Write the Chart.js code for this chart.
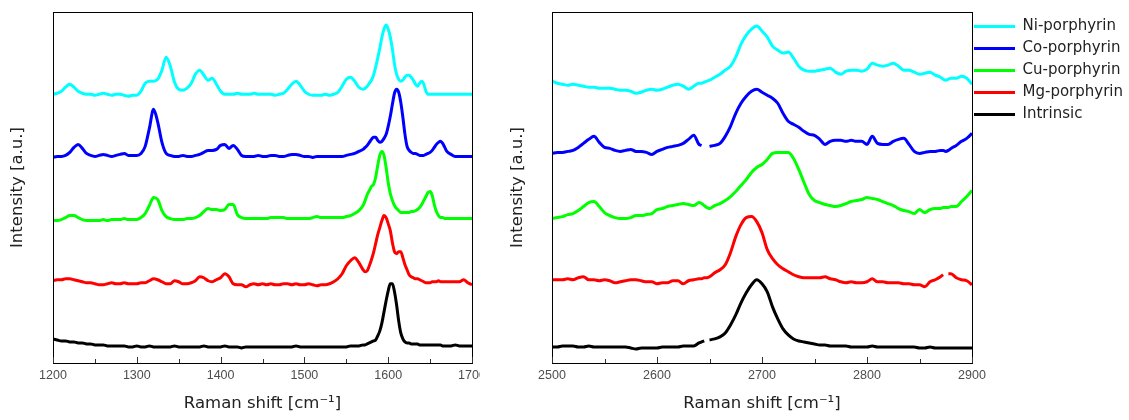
<!DOCTYPE html>
<html>
<head>
<meta charset="utf-8">
<script src="https://cdn.jsdelivr.net/npm/chart.js@4.4.0/dist/chart.umd.min.js"></script>
<style>
  body { margin: 0; background: #fff; overflow: hidden; }
  canvas { position: absolute; top: 0; }
  #left { left: 0; }
  #right { left: 500px; }
</style>
</head>
<body>
<canvas id="left" width="480" height="420"></canvas>
<canvas id="right" width="629" height="420"></canvas>
<script>
// Raman shift grids (cm-1), denser around the G band region and the data gaps
const shiftLeft = [
  1200,1205,1210,1215,1220,1225,1230,1235,1240,1245,1250,1255,1260,1265,1270,1275,1280,1285,1290,1295,
  1300,1305,1310,1315,1320,1325,1330,1335,1340,1345,1350,1355,1360,1365,1370,1375,1380,1385,1390,1395,
  1400,1405,1410,1415,1420,1425,1430,1435,1440,1445,1450,1455,1460,1465,1470,1475,1480,1485,1490,1495,
  1500,1505,1510,1515,1520,1525,1530,1535,1540,1545,1550,1555,1560,1565,
  1570,1572.5,1575,1577.5,1580,1582.5,1585,1587.5,1590,1592.5,1595,1597.5,1600,1602.5,1605,1607.5,1610,1612.5,1615,1617.5,
  1620,1622.5,1625,1627.5,1630,1632.5,1635,1637.5,1640,1642.5,1645,1647.5,1650,1652.5,1655,1657.5,1660,1662.5,1665,1667.5,
  1670,1675,1680,1685,1690,1695,1700
];
const shiftRight = [
  2500,2505,2510,2515,2520,2525,2530,2535,2540,2545,2550,2555,2560,2565,2570,2575,2580,2585,2590,2595,
  2600,2605,2610,2615,2620,2625,2630,2635,2640,2642.5,2645,2647.5,2650,2655,2660,2665,2670,2675,2680,2685,2690,2695,
  2700,2705,2710,2715,2720,2725,2730,2735,2740,2745,2750,2755,2760,2765,2770,2775,2780,2785,2790,2795,
  2800,2805,2810,2815,2820,2825,2830,2835,2840,2845,2850,2855,2860,2865,2870,2872.5,2875,2877.5,2880,2885,2890,2895,
  2900
];

// intensities (a.u., spectra stacked with offsets as plotted)
const niLeft = [
  268,269,271,275,278,275,271,269,268,268,267,268,269,268,267,268,268,267,266,267,
  267,271,279,281,281,283,292,305,296,280,273,272,274,279,288,292,287,282,284,278,
  271,268,268,268,269,268,268,268,269,268,268,268,268,267,268,269,273,278,281,277,
  271,268,267,267,267,268,267,268,270,276,283,285,281,275,
  273,274,276,279,282,287,295,304,314,325,333,337,333,325,313,298,288,283,281,282,
  285,287,287,285,282,278,276,279,281,278,271,268,268,268,268,268,268,268,268,268,
  268,268,268,268,268,268,268
];
const coLeft = [
  205,206,206,207,210,215,218,214,209,207,206,207,208,207,206,207,208,209,207,207,
  207,209,216,234,253,240,220,209,207,206,206,207,206,206,207,208,210,212,212,213,
  217,218,214,217,213,207,206,206,206,207,206,206,207,207,206,206,207,208,208,207,
  206,206,205,206,206,206,206,206,206,206,207,208,209,211,
  213,215,217,220,223,225,225,222,220,221,224,228,236,246,258,269,273,270,260,245,
  228,216,212,210,209,209,208,207,207,207,208,209,210,212,215,218,220,221,219,215,
  211,208,206,206,206,206,206
];
const cuLeft = [
  142,142,143,145,147,147,145,143,142,142,142,142,143,142,143,143,143,144,143,143,
  143,145,149,157,165,163,152,146,144,143,143,143,144,144,145,147,151,154,153,153,
  152,153,158,158,148,145,144,144,144,144,144,144,145,145,145,145,144,144,144,144,
  144,144,145,146,145,145,145,145,145,145,146,147,149,152,
  157,162,168,172,176,178,185,197,207,211,207,195,180,169,162,157,154,152,150,150,
  150,150,150,151,151,152,153,155,158,162,166,170,171,167,158,151,147,145,145,144,
  144,144,144,144,144,144,144
];
const mgLeft = [
  82,83,83,84,84,83,82,81,80,80,79,78,78,79,80,79,79,80,79,79,
  79,80,80,82,84,83,81,79,79,82,81,79,79,80,82,86,85,82,81,83,
  85,89,86,79,78,78,76,78,79,78,79,78,79,78,78,79,79,78,79,78,
  78,79,78,77,78,78,79,81,84,89,97,102,105,100,
  93,91,92,97,103,110,119,128,135,142,147,145,139,132,120,111,109,111,111,105,
  98,93,88,86,85,84,84,83,82,81,80,80,80,81,81,81,82,81,81,81,
  81,81,81,81,83,80,78
];
const intrinsicLeft = [
  24,23,22,22,21,21,20,20,19,19,18,18,18,17,17,17,17,17,16,16,
  17,16,16,17,16,16,16,16,16,17,16,16,16,16,16,16,17,16,16,16,
  16,17,16,16,16,15,16,16,16,16,16,16,16,16,16,16,16,16,17,16,
  16,16,16,16,16,16,16,16,16,16,16,17,17,17,
  18,18,19,20,21,22,23,27,32,40,51,62,72,79,79,71,58,42,30,24,
  21,20,20,19,19,19,19,18,18,18,18,18,18,18,18,18,18,18,17,17,
  17,17,18,17,17,17,17
];

const niRight = [
  281,279,278,277,278,277,276,275,275,274,274,274,273,272,272,271,269,270,272,273,
  272,273,275,277,278,276,273,276,279,279,280,281,282,285,288,292,296,305,318,327,333,336,
  331,325,316,312,309,310,304,296,292,291,291,292,293,294,290,288,291,292,292,291,
  293,299,297,296,297,299,296,292,292,290,288,289,290,287,285,283,282,283,284,284,286,284,
  278
];
const coRight = [
  209,210,210,211,212,215,219,223,226,220,215,214,212,211,212,213,211,211,210,208,
  211,213,215,216,217,219,223,227,218,217,null,null,216,217,219,226,236,249,259,266,271,273,
  270,267,264,259,249,241,238,235,231,228,227,223,218,221,222,222,221,222,221,221,
  218,226,219,218,218,221,223,224,218,211,209,210,211,211,212,212,211,212,214,217,221,224,
  229
];
const cuRight = [
  144,145,146,148,149,152,156,160,161,156,150,147,145,144,144,145,147,147,148,149,
  153,154,156,157,158,159,158,157,160,159,157,155,154,157,159,162,166,171,177,183,190,195,
  198,203,209,210,210,210,204,193,180,168,162,160,158,157,156,157,159,161,162,163,
  165,164,163,161,159,157,154,152,151,149,153,150,153,154,154,155,155,155,156,156,161,166,
  172
];
const mgRight = [
  83,83,83,84,83,85,86,83,83,82,83,82,80,81,82,83,83,82,81,81,
  79,80,80,82,82,79,82,83,84,84,85,85,86,90,93,98,110,126,138,145,146,141,
  130,113,104,98,94,91,88,86,85,85,85,85,86,84,83,81,80,81,80,80,
  81,84,81,81,80,80,80,79,79,78,78,76,81,83,86,88,null,89,89,85,83,82,
  78
];
const intrinsicRight = [
  16,16,17,17,17,16,16,17,16,16,16,16,16,16,16,15,14,15,15,15,
  15,16,16,16,16,17,17,17,20,21,22,null,23,24,26,30,38,48,60,70,78,83,
  79,71,56,44,34,28,24,22,21,20,19,18,18,17,17,17,17,16,16,16,
  16,17,16,16,16,16,16,16,16,16,15,15,16,15,15,15,15,15,15,15,15,15,
  15
];

const seriesNames = ['Ni-porphyrin', 'Co-porphyrin', 'Cu-porphyrin', 'Mg-porphyrin', 'Intrinsic'];
const seriesColors = ['#00ffff', '#0000ff', '#00ff00', '#ff0000', '#000000'];

const FONT = "'DejaVu Sans', sans-serif";
const TICK_FONT = "'Liberation Sans', Arial, sans-serif";

function makeDatasets(shift, series) {
  return series.map((vals, i) => ({
    label: seriesNames[i],
    data: vals.map((v, j) => ({ x: shift[j], y: v })),
    borderColor: seriesColors[i],
    backgroundColor: seriesColors[i],
    borderWidth: 3,
    pointRadius: 0,
    cubicInterpolationMode: 'monotone',
    spanGaps: false
  }));
}

// box frame + inward ticks (major every 100, minor every 50)
const frameTicks = {
  id: 'frameTicks',
  afterDraw(chart) {
    const { ctx, chartArea: a } = chart;
    const x = chart.scales.x;
    ctx.save();
    ctx.strokeStyle = '#000';
    ctx.lineWidth = 1;
    ctx.strokeRect(Math.round(a.left) + 0.5, Math.round(a.top) + 0.5,
      Math.round(a.right - a.left), Math.round(a.bottom - a.top));
    ctx.strokeStyle = '#333';
    ctx.beginPath();
    x.ticks.forEach(t => {
      const px = Math.round(x.getPixelForValue(t.value)) + 0.5;
      const len = t.value % 100 === 0 ? 6 : 4;
      ctx.moveTo(px, a.bottom);
      ctx.lineTo(px, a.bottom - len);
    });
    ctx.stroke();
    ctx.restore();
  }
};

// legend sits tight against the frame
const nudgeLegend = {
  id: 'nudgeLegend',
  afterLayout(chart) {
    const lg = chart.legend;
    if (lg && lg.options.display) {
      lg.left -= 5;
      lg.right -= 5;
    }
  }
};

function makeOptions(xMin, xMax, showLegend) {
  return {
    responsive: false,
    animation: false,
    devicePixelRatio: 1,
    layout: { padding: { top: 12, right: showLegend ? 0 : 8, left: 0, bottom: 0 } },
    plugins: {
      legend: showLegend ? {
        position: 'right',
        align: 'start',
        maxWidth: 157,
        labels: {
          usePointStyle: true,
          pointStyle: 'line',
          pointStyleWidth: 41,
          boxHeight: 15,
          padding: 7,
          color: '#222',
          font: { family: FONT, size: 15 }
        }
      } : { display: false },
      tooltip: { enabled: false }
    },
    scales: {
      x: {
        type: 'linear',
        min: xMin,
        max: xMax,
        ticks: {
          stepSize: 50,
          autoSkip: false,
          maxRotation: 0,
          padding: 5,
          color: '#4d4d4d',
          font: { family: TICK_FONT, size: 12.5 },
          callback: v => (v % 100 === 0 ? String(v) : '')
        },
        grid: { display: false, drawTicks: false },
        border: { display: false },
        title: {
          display: true,
          text: 'Raman shift [cm⁻¹]',
          color: '#222',
          font: { family: FONT, size: 16.5 },
          padding: { top: 0, bottom: 6 }
        },
        afterFit(s) {
          s.height = 57;
          s.paddingLeft = 0;
          s.paddingRight = 0;
        }
      },
      y: {
        min: 0,
        max: 350,
        ticks: { display: false },
        grid: { display: false, drawTicks: false },
        border: { display: false },
        title: {
          display: true,
          text: 'Intensity [a.u.]',
          color: '#222',
          font: { family: FONT, size: 16.5 },
          padding: { top: 8, bottom: 0 }
        },
        afterFit(s) { s.width = 52; }
      }
    }
  };
}

const leftOpts = makeOptions(1200, 1700, false);
leftOpts.scales.y.afterFit = s => { s.width = 53; };

new Chart(document.getElementById('left'), {
  type: 'line',
  data: { datasets: makeDatasets(shiftLeft, [niLeft, coLeft, cuLeft, mgLeft, intrinsicLeft]) },
  options: leftOpts,
  plugins: [frameTicks]
});

new Chart(document.getElementById('right'), {
  type: 'line',
  data: { datasets: makeDatasets(shiftRight, [niRight, coRight, cuRight, mgRight, intrinsicRight]) },
  options: makeOptions(2500, 2900, true),
  plugins: [frameTicks, nudgeLegend]
});
</script>
</body>
</html>
